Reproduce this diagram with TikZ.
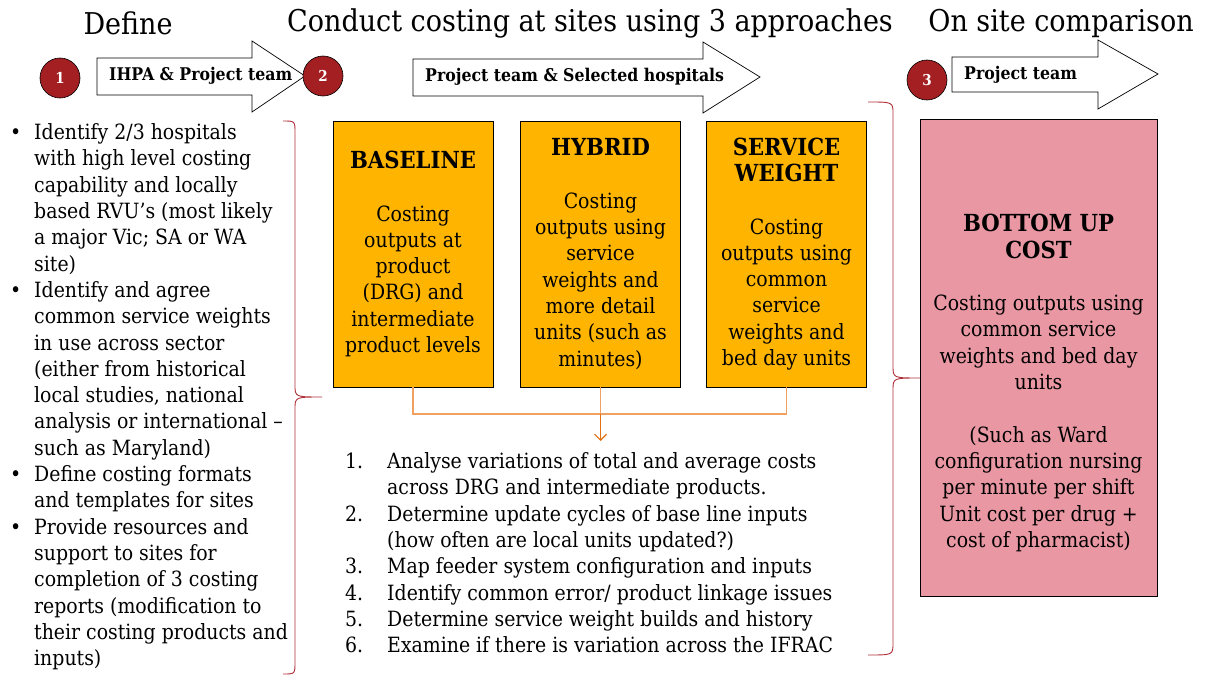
\documentclass[tikz,border=0pt]{standalone}
\usepackage{fontspec}
\setmainfont{DejaVu Serif Condensed}
\usetikzlibrary{arrows.meta}
\definecolor{boxorange}{HTML}{FFB500}
\definecolor{boxpink}{HTML}{E897A3}
\definecolor{stepred}{HTML}{A31F22}
\definecolor{bracered}{HTML}{B03038}
\definecolor{linkorange}{HTML}{F0A060}
\definecolor{tiporange}{HTML}{E3700F}
\newcommand{\ttl}[1]{{\fontsize{23.5}{26.3}\selectfont\bfseries #1}}
\begin{document}
\begin{tikzpicture}[x=1pt,y=-1pt,
  head/.style={font=\fontsize{30}{34}\selectfont, inner sep=0},
  body/.style={font=\fontsize{21}{26.3}\selectfont},
  lbl/.style={font=\fontsize{17.5}{20}\selectfont\bfseries, inner sep=0, anchor=west},
  bigarrow/.style={draw=black, line width=0.7pt, fill=white},
  stepdot/.style={circle, draw=black, line width=0.6pt, fill=stepred, minimum size=40pt, inner sep=0,
    text=white, font=\fontsize{15}{18}\selectfont\bfseries},
  obox/.style={draw=black, line width=0.7pt, fill=boxorange, minimum width=160pt, minimum height=266pt,
    align=center, inner sep=0, font=\fontsize{21}{26.3}\selectfont},
  pbox/.style={draw=black, line width=0.7pt, fill=boxpink, minimum width=237pt, minimum height=477pt, inner sep=0},
  brace/.style={draw=bracered, line width=0.9pt},
  link/.style={draw=linkorange, line width=1.2pt},
  linktip/.style={draw=tiporange, line width=1.2pt, -{Straight Barb[length=6pt,width=12pt]}}
]
\useasboundingbox (0,0) rectangle (1205,677);

% phase headings
\node[head] (hdef) at (128,23) {Define};
\node[head] (hcon) at (590,23) {Conduct costing at sites using 3 approaches};
\node[head] (hons) at (1061,23) {On site comparison};

% phase arrows
\draw[bigarrow] (97,58) -- (252,58) -- (252,41) -- (305,76) -- (252,112) -- (252,95) -- (97,95) -- cycle;
\node[lbl] (a1) at (109,76) {IHPA \& Project team};
\draw[bigarrow] (413,59) -- (703,59) -- (703,42) -- (760,77) -- (703,113) -- (703,96) -- (413,96) -- cycle;
\node[lbl] (a2) at (425,77) {Project team \& Selected hospitals};
\draw[bigarrow] (952,57) -- (1098,57) -- (1098,40) -- (1158,74) -- (1098,109) -- (1098,92) -- (952,92) -- cycle;
\node[lbl] (a3) at (964,75) {Project team};

% step markers
\node[stepdot] (s1) at (60,78) {1};
\node[stepdot] (s2) at (323,76) {2};
\node[stepdot] (s3) at (927,80) {3};

% costing approaches
\node[obox] (b1) at (413,254) {\ttl{BASELINE}\\ \mbox{}\\ Costing\\ outputs at\\ product\\ (DRG) and\\ intermediate\\ product levels};
\node[obox] (b2) at (600.5,254) {\ttl{HYBRID}\\ \mbox{}\\ Costing\\ outputs using\\ service\\ weights and\\ more detail\\ units (such as\\ minutes)};
\node[obox] (b3) at (786.5,254) {\ttl{SERVICE}\\ \ttl{WEIGHT}\\ \mbox{}\\ Costing\\ outputs using\\ common\\ service\\ weights and\\ bed day units};

% bottom up comparison
\node[pbox] (b4) at (1038.5,357.5) {};
\node[body, align=center, inner sep=0] (b4t) at (1038.5,383) {\ttl{BOTTOM UP}\\ \ttl{COST}\\ \mbox{}\\ Costing outputs using\\ common service\\ weights and bed day\\ units\\ \mbox{}\\ (Such as Ward\\ configuration nursing\\ per minute per shift\\ Unit cost per drug +\\ cost of pharmacist)};

% results feed into the analysis list
\coordinate (j) at (600.5,414);
\coordinate (jt) at (600.5,441);
\draw[link] (b1.south) |- (j);
\draw[link] (b3.south) |- (j);
\draw[link] (b2.south) -- (j);
\draw[linktip] (j) -- (jt);

% definition tasks
\node[body, anchor=north west, inner sep=0] (deflist) at (10,121) {%
\begin{tabular}{@{}p{24pt}@{}l@{}}
\textbullet & Identify 2/3 hospitals\\
 & with high level costing\\
 & capability and locally\\
 & based RVU’s (most likely\\
 & a major Vic; SA or WA\\
 & site)\\
\textbullet & Identify and agree\\
 & common service weights\\
 & in use across sector\\
 & (either from historical\\
 & local studies, national\\
 & analysis or international –\\
 & such as Maryland)\\
\textbullet & Define costing formats\\
 & and templates for sites\\
\textbullet & Provide resources and\\
 & support to sites for\\
 & completion of 3 costing\\
 & reports (modification to\\
 & their costing products and\\
 & inputs)
\end{tabular}};

% analysis steps
\node[body, anchor=north west, inner sep=0] (steps) at (345,450) {%
\begin{tabular}{@{}p{42pt}@{}l@{}}
1. & Analyse variations of total and average costs\\
 & across DRG and intermediate products.\\
2. & Determine update cycles of base line inputs\\
 & (how often are local units updated?)\\
3. & Map feeder system configuration and inputs\\
4. & Identify common error/ product linkage issues\\
5. & Determine service weight builds and history\\
6. & Examine if there is variation across the IFRAC
\end{tabular}};

% grouping braces
\draw[brace] (283,121) .. controls (295,121) .. (295,133) -- (295,385)
  .. controls (295,397) .. (322,397) .. controls (295,397) .. (295,409)
  -- (295,662) .. controls (295,674) .. (283,674);
\draw[brace] (868,102) .. controls (893,102) .. (893,114) -- (893,366)
  .. controls (893,378) .. (920,378) .. controls (893,378) .. (893,390)
  -- (893,643) .. controls (893,655) .. (868,655);
\end{tikzpicture}
\end{document}
